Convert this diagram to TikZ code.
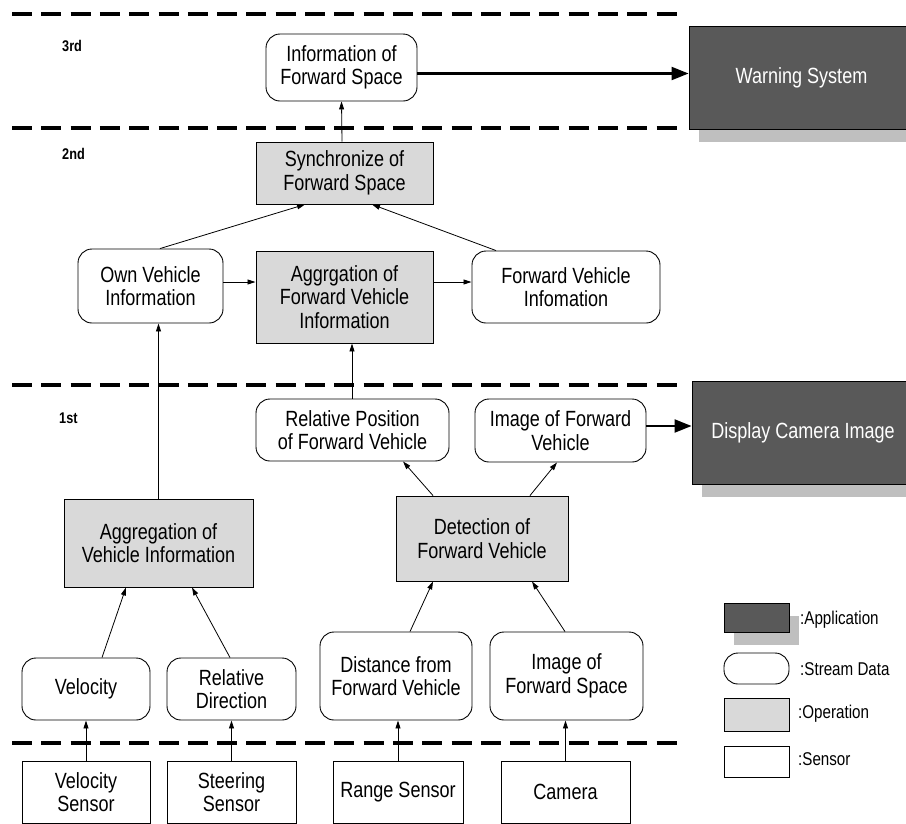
\documentclass[tikz,border=0pt]{standalone}
\usepackage{fontspec}
\setmainfont{Liberation Sans}[FakeStretch=0.82]
\usetikzlibrary{arrows.meta,shadows}
\definecolor{appfill}{HTML}{595959}
\definecolor{shadegray}{HTML}{BFBFBF}
\definecolor{opfill}{HTML}{D9D9D9}
\begin{document}
\begin{tikzpicture}[x=1pt,y=-1pt,
  every node/.style={font=\fontsize{22}{23.5}\selectfont, align=center, inner sep=0pt},
  stream/.style={draw, line width=0.9pt, rounded corners=14pt, fill=white},
  oper/.style={draw, line width=0.9pt, fill=opfill},
  sensorbox/.style={draw, line width=0.9pt, fill=white},
  app/.style={draw, line width=0.9pt, fill=appfill, text=white,
    drop shadow={shadow xshift=10pt, shadow yshift=-13pt, fill=shadegray, opacity=1}},
  tier/.style={line width=4pt, dash pattern=on 20pt off 9.3pt},
  levellabel/.style={font=\fontsize{15.5}{17}\selectfont\bfseries, anchor=west},
  legendtext/.style={font=\fontsize{18.5}{20}\selectfont, anchor=west},
  arr/.style={line width=0.8pt, -{Triangle[length=8pt,width=5pt]}},
  bigarr/.style={line width=2.2pt, -{Triangle[length=17pt,width=13pt]}}]
\useasboundingbox (0,0) rectangle (906,823);
\clip (0,0) rectangle (906,823);

% tier separators
\draw[tier] (12,14) -- (684,14);
\draw[tier] (12,128) -- (684,128);
\draw[tier] (12,385) -- (684,385);
\draw[tier] (12,743) -- (684,743);

% tier labels
\node[levellabel] (l3) at (62,46) {3rd};
\node[levellabel] (l2) at (62,154) {2nd};
\node[levellabel] (l1) at (59,418) {1st};

% applications
\node[app, minimum width=225pt, minimum height=103pt] (warn) at (801.5,77.5) {Warning System};
\node[app, minimum width=222pt, minimum height=103pt] (disp) at (803,432.5) {Display Camera Image};

% third tier
\node[stream, minimum width=151pt, minimum height=67pt] (info) at (341.5,67.5) {Information of\\Forward Space};

% second tier
\node[oper, minimum width=177pt, minimum height=62pt] (sync) at (344.5,173) {Synchronize of\\Forward Space};
\node[stream, minimum width=145pt, minimum height=74pt] (own) at (150.5,286) {Own Vehicle\\Information};
\node[oper, minimum width=177pt, minimum height=92pt] (aggfv) at (344.5,297) {Aggrgation of\\Forward Vehicle\\Information};
\node[stream, minimum width=188pt, minimum height=72pt] (fvi) at (566,287) {Forward Vehicle\\Infomation};

% first tier
\node[stream, minimum width=193pt, minimum height=62pt] (relpos) at (352.5,430) {Relative Position\\of Forward Vehicle};
\node[stream, minimum width=171pt, minimum height=63pt] (imgfv) at (560.5,430.5) {Image of Forward\\Vehicle};
\node[oper, minimum width=189pt, minimum height=88pt] (aggvi) at (158.5,543) {Aggregation of\\Vehicle Information};
\node[oper, minimum width=172pt, minimum height=85pt] (det) at (482,538.5) {Detection of\\Forward Vehicle};
\node[stream, minimum width=128pt, minimum height=62pt] (vel) at (86,689) {Velocity};
\node[stream, minimum width=129pt, minimum height=62pt] (reldir) at (231.5,689) {Relative\\Direction};
\node[stream, minimum width=152pt, minimum height=88pt] (dist) at (396,676) {Distance from\\Forward Vehicle};
\node[stream, minimum width=153pt, minimum height=88pt] (imgfs) at (566.5,676) {Image of\\Forward Space};

% sensors
\node[sensorbox, minimum width=128pt, minimum height=62pt] (vs) at (86,792) {Velocity\\Sensor};
\node[sensorbox, minimum width=129pt, minimum height=62pt] (ss) at (231.5,792) {Steering\\Sensor};
\node[sensorbox, minimum width=130pt, minimum height=62pt] (rs) at (398,792) {Range Sensor};
\node[sensorbox, minimum width=129pt, minimum height=62pt] (cam) at (565.5,792) {Camera};

% legend
\node[app, minimum width=65pt, minimum height=29pt] (lgapp) at (756.5,617.5) {};
\node[stream, minimum width=65pt, minimum height=31pt] (lgstream) at (756.5,668.5) {};
\node[oper, minimum width=65pt, minimum height=33pt] (lgop) at (756.5,714.5) {};
\node[sensorbox, minimum width=65pt, minimum height=31pt] (lgsens) at (756.5,761.5) {};
\node[legendtext] (tapp) at (800,620) {:Application};
\node[legendtext] (tstream) at (800,669) {:Stream Data};
\node[legendtext] (top) at (798,714) {:Operation};
\node[legendtext] (tsens) at (798,759) {:Sensor};

% data flow
\draw[bigarr] ([yshift=-6pt]info.east) -- ([yshift=4pt]warn.west);
\draw[arr] ([xshift=-2.5pt]sync.north) -- (info.south);
\draw[arr] ([xshift=9.5pt]own.north) -- ([xshift=-39.5pt]sync.south);
\draw[arr] ([xshift=-70pt]fvi.north) -- ([xshift=27.5pt]sync.south);
\draw[arr] ([yshift=4pt]own.east) -- ([yshift=15pt]aggfv.west);
\draw[arr] ([yshift=15pt]aggfv.east) -- ([yshift=5pt]fvi.west);
\draw[arr] ([xshift=-0.5pt]relpos.north) -- ([xshift=7.5pt]aggfv.south);
\draw[arr] (aggvi.north) -- ([xshift=8pt]own.south);
\draw[arr] ([xshift=-49pt]det.north) -- ([xshift=50.5pt]relpos.south);
\draw[arr] ([xshift=48pt]det.north) -- ([xshift=-3.5pt]imgfv.south);
\draw[bigarr] ([yshift=4.5pt]imgfv.east) -- ([yshift=6.5pt]disp.west);
\draw[arr] ([xshift=16pt]vel.north) -- ([xshift=-32.5pt]aggvi.south);
\draw[arr] ([xshift=-1.5pt]reldir.north) -- ([xshift=33.5pt]aggvi.south);
\draw[arr] ([xshift=14pt]dist.north) -- ([xshift=-49pt]det.south);
\draw[arr] ([xshift=-1.5pt]imgfs.north) -- ([xshift=50pt]det.south);
\draw[arr] (vs.north) -- (vel.south);
\draw[arr] (ss.north) -- (reldir.south);
\draw[arr] (rs.north) -- (rs.north |- dist.south);
\draw[arr] (cam.north) -- (cam.north |- imgfs.south);
\end{tikzpicture}
\end{document}
